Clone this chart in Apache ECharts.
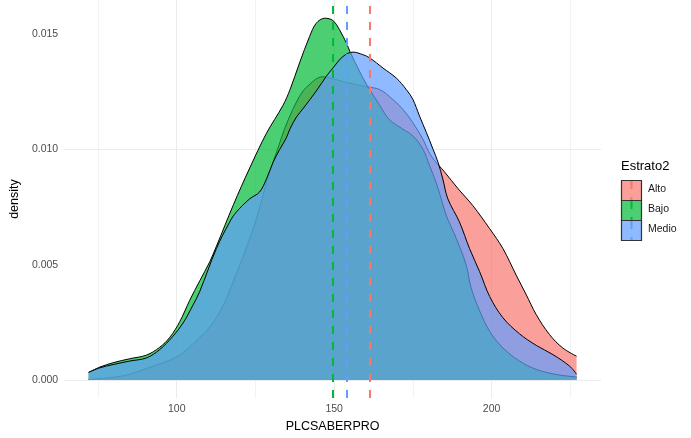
<!DOCTYPE html>
<html>
<head>
<meta charset="utf-8">
<script src="https://cdn.jsdelivr.net/npm/echarts@6/dist/echarts.min.js"></script>
<style>
html, body { margin: 0; padding: 0; background: #fff; }
#main { width: 691px; height: 438px; }
</style>
</head>
<body>
<div id="main"></div>
<script>
// groups (Estrato2) and their ggplot colours
var groups = ['Alto', 'Bajo', 'Medio'];
var colors = ['#F8766D', '#00BA38', '#619CFF'];
var means = [161.4, 149.5, 154.0];

// density curves
var altoX = [72, 80, 85, 91, 100, 107, 110.5, 113.5, 115.8, 118, 120, 123.2, 125.3, 127.4, 129, 132, 135, 139, 142, 146.3, 150, 154, 160, 164.4, 168.6, 171.8, 175, 178.2, 180.8, 185.2, 189.4, 194, 199.4, 203.6, 207.8, 211, 214.2, 218.4, 222.6, 227];
var altoY = [0.00002, 0.00012, 0.00025, 0.00053, 0.00100, 0.00180, 0.00230, 0.00290, 0.00355, 0.00430, 0.00498, 0.00613, 0.00700, 0.00800, 0.00880, 0.01000, 0.01115, 0.01230, 0.01280, 0.01315, 0.01305, 0.01290, 0.01272, 0.01260, 0.01217, 0.01174, 0.01116, 0.01044, 0.00972, 0.00900, 0.00829, 0.00757, 0.00656, 0.00570, 0.00455, 0.00370, 0.00283, 0.00197, 0.00139, 0.00103];

var bajoX = [72, 75.6, 79.8, 85, 90.4, 94.6, 97.8, 101, 104.1, 107.3, 110.5, 112.6, 118, 123.2, 128.5, 133.7, 136, 139, 142.2, 144.3, 147, 149.6, 151.7, 153.9, 155, 158, 160.7, 164.3, 167.5, 171.8, 175, 178.2, 180.3, 182.4, 184, 185.6, 188.8, 191.9, 193.5, 196.2, 199.4, 203.6, 208.9, 214.2, 220.5, 227];
var bajoY = [0.00033, 0.00056, 0.00075, 0.00092, 0.00108, 0.00142, 0.00185, 0.00254, 0.00345, 0.00430, 0.00513, 0.00580, 0.00760, 0.00920, 0.01070, 0.01190, 0.01260, 0.01375, 0.01490, 0.01547, 0.01569, 0.01559, 0.01519, 0.01461, 0.01425, 0.01340, 0.01272, 0.01195, 0.01130, 0.01088, 0.01059, 0.01001, 0.00930, 0.00855, 0.00786, 0.00714, 0.00613, 0.00500, 0.00400, 0.00300, 0.00211, 0.00139, 0.00082, 0.00046, 0.00024, 0.00013];

var medioX = [72, 75.6, 79.8, 85, 90.4, 94.6, 98.8, 102, 105.2, 107.3, 112.6, 116.8, 118.9, 123.2, 126.3, 128.5, 130.6, 132.7, 134.8, 136, 138, 140.3, 144.3, 147.5, 149.6, 152.8, 156, 159.1, 161.3, 165.5, 169.7, 172.9, 175, 177.1, 179.3, 181.4, 183, 184.5, 186.1, 189.8, 193, 196.2, 199.4, 203.6, 208.9, 214.2, 219.5, 224.8, 227];
var medioY = [0.00033, 0.00053, 0.00067, 0.00082, 0.00096, 0.00132, 0.00190, 0.00247, 0.00326, 0.00384, 0.00570, 0.00685, 0.00728, 0.00786, 0.00815, 0.00872, 0.00944, 0.01000, 0.01050, 0.01090, 0.01140, 0.01180, 0.01253, 0.01317, 0.01353, 0.01403, 0.01422, 0.01411, 0.01397, 0.01353, 0.01310, 0.01260, 0.01217, 0.01145, 0.01073, 0.01001, 0.00944, 0.00872, 0.00786, 0.00685, 0.00570, 0.00470, 0.00362, 0.00270, 0.00200, 0.00150, 0.00110, 0.00060, 0.00025];

var xTicks = [100, 150, 200];
var xMinor = [75, 125, 175, 225];
var yTicks = [0, 0.005, 0.01, 0.015];
var yMinor = [0.0025, 0.0075, 0.0125];

var FONT = "'Liberation Sans', Arial, sans-serif";

function zip(xs, ys) {
    var out = [];
    for (var i = 0; i < xs.length; i++) out.push([xs[i], ys[i]]);
    return out;
}
var curves = [zip(altoX, altoY), zip(bajoX, bajoY), zip(medioX, medioY)];

// background grid (theme_minimal)
var gridLines = [];
xMinor.forEach(function (v) { gridLines.push({ xAxis: v, lineStyle: { color: '#F2F2F2', width: 1, type: 'solid' } }); });
yMinor.forEach(function (v) { gridLines.push({ yAxis: v, lineStyle: { color: '#F2F2F2', width: 1, type: 'solid' } }); });
xTicks.forEach(function (v) { gridLines.push({ xAxis: v, lineStyle: { color: '#EBEBEB', width: 1, type: 'solid' } }); });
yTicks.forEach(function (v) { gridLines.push({ yAxis: v, lineStyle: { color: '#EBEBEB', width: 1, type: 'solid' } }); });

var series = [{
    name: 'grid',
    type: 'line',
    data: [],
    silent: true,
    markLine: {
        z: 0,
        silent: true,
        symbol: 'none',
        label: { show: false },
        animation: false,
        lineStyle: { type: 'solid' },
        data: gridLines
    }
}];

// each group gets its own z so its fill covers the outlines drawn before it
groups.forEach(function (g, i) {
    series.push({
        name: g,
        type: 'line',
        z: 2 + i,
        data: curves[i],
        smooth: 0.35,
        showSymbol: false,
        silent: true,
        lineStyle: { color: '#000', width: 1 },
        areaStyle: { color: colors[i], opacity: 0.7 },
        markLine: {
            z: 10,
            silent: true,
            symbol: 'none',
            label: { show: false },
            animation: false,
            data: [{ xAxis: means[i] }],
            lineStyle: { color: colors[i], width: 2, type: [8, 8] }
        }
    });
});

// legend drawn by hand so the keys can carry the dashed mean line
var legendItems = [{
    type: 'text', left: 621, top: 160,
    style: { text: 'Estrato2', font: '13px ' + FONT, fill: '#000' }
}];
groups.forEach(function (g, i) {
    var top = 180 + i * 20;
    legendItems.push({
        type: 'rect',
        shape: { x: 621.5, y: top + 0.5, width: 20, height: 20 },
        style: { fill: colors[i], opacity: 0.7, stroke: 'none' }
    });
    legendItems.push({
        type: 'rect',
        shape: { x: 621.5, y: top + 0.5, width: 20, height: 20 },
        style: { fill: 'none', stroke: '#333', lineWidth: 1.2 }
    });
    legendItems.push({
        type: 'line',
        shape: { x1: 631.5, y1: top + 1, x2: 631.5, y2: top + 20 },
        style: { stroke: colors[i], lineWidth: 2, lineDash: [8, 8] }
    });
    legendItems.push({
        type: 'text', left: 648, top: top + 4,
        style: { text: g, font: '10.5px ' + FONT, fill: '#1A1A1A' }
    });
});

var chart = echarts.init(document.getElementById('main'));
chart.setOption({
    animation: false,
    backgroundColor: '#fff',
    grid: { left: 64, right: 90, top: 0, bottom: 38 },
    xAxis: {
        type: 'value',
        min: 64.25,
        max: 234.75,
        name: 'PLCSABERPRO',
        nameLocation: 'middle',
        nameGap: 20,
        nameTextStyle: { fontFamily: FONT, fontSize: 12.5, color: '#000' },
        axisLine: { show: false },
        axisTick: { show: false },
        splitLine: { show: false },
        axisLabel: {
            customValues: xTicks,
            margin: 6,
            fontFamily: FONT,
            fontSize: 10.5,
            color: '#4D4D4D'
        }
    },
    yAxis: {
        type: 'value',
        min: -0.000785,
        max: 0.01648,
        name: 'density',
        nameLocation: 'middle',
        nameGap: 36,
        nameTextStyle: { fontFamily: FONT, fontSize: 12.5, color: '#000' },
        axisLine: { show: false },
        axisTick: { show: false },
        splitLine: { show: false },
        axisLabel: {
            customValues: yTicks,
            margin: 6,
            fontFamily: FONT,
            fontSize: 10.5,
            color: '#4D4D4D',
            formatter: function (v) { return v.toFixed(3); }
        }
    },
    graphic: legendItems,
    series: series
});
</script>
</body>
</html>
